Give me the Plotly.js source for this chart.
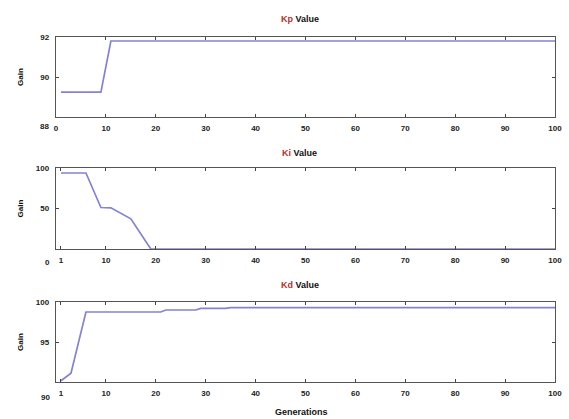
<!DOCTYPE html>
<html><head><meta charset="utf-8">
<script src="https://cdn.plot.ly/plotly-3.0.1.min.js"></script>
<style>html,body{margin:0;padding:0;background:#fff}#c{width:569px;height:419px}</style>
</head><body><div id="c"></div>
<script>
// Vertices of each curve (generation, gain)
const kpGen = [1, 9, 11, 100];
const kpGain = [89.24, 89.24, 91.8, 91.8];
const kiGen = [1, 6, 9, 11, 15, 19, 100];
const kiGain = [93.8, 93.8, 51.2, 50.8, 37.2, 0, 0];
const kdGen = [1, 3, 6, 21, 22, 28, 29, 34, 35, 100];
const kdGain = [90.15, 91.1, 98.75, 98.75, 99.0, 99.0, 99.2, 99.2, 99.3, 99.3];

// Tick values / labels
const xTicksTop = [0, 10, 20, 30, 40, 50, 60, 70, 80, 90, 100];
const xTicksLower = [1, 10, 20, 30, 40, 50, 60, 70, 80, 90, 100];
const kpYTicks = [88, 90, 92];
const kiYTicks = [0, 50, 100];
const kdYTicks = [90, 95, 100];
const titleKeys = ['Kp', 'Ki', 'Kd'];
const titleRest = ' Value';
const yTitle = 'Gain';
const xTitle = 'Generations';

const H = 419;
const frac = p => 1 - p / H;
const xDom = [56 / 569, 555 / 569];
const boxes = [[37, 117], [168, 249], [302, 382]];
const titleY = [19, 153, 285];
const bottomShift = [-10, -13, -15];
const lineColor = '#8383d3';
const tickFont = {family: 'Liberation Sans, Arial', size: 8, color: '#222', weight: 'bold'};

const traces = [
  {x: kpGen, y: kpGain, xaxis: 'x', yaxis: 'y'},
  {x: kiGen, y: kiGain, xaxis: 'x2', yaxis: 'y2'},
  {x: kdGen, y: kdGain, xaxis: 'x3', yaxis: 'y3'}
].map(t => Object.assign(t, {type: 'scatter', mode: 'lines', line: {color: lineColor, width: 1.7}, hoverinfo: 'skip', showlegend: false}));

function xa(anchor, ticks) {
  return {domain: xDom, anchor: anchor, range: [0, 100], tickvals: ticks, ticktext: ticks.map(String),
    ticks: 'inside', ticklen: 3, tickcolor: '#444', mirror: 'ticks', showline: true, linecolor: '#555', linewidth: 1.3,
    showgrid: false, zeroline: false, tickfont: tickFont, ticklabelstandoff: 3, fixedrange: true};
}
function ya(anchor, dom, ticks) {
  const shown = ticks.slice(1);
  return {domain: dom, anchor: anchor, range: [ticks[0], ticks[2]], tickvals: shown,
    ticktext: shown.map(String),
    ticks: 'inside', ticklen: 3, tickcolor: '#444', mirror: 'ticks', showline: true, linecolor: '#555', linewidth: 1.3,
    showgrid: false, zeroline: false, tickfont: tickFont, ticklabelstandoff: 4, fixedrange: true};
}

const yTickSets = [kpYTicks, kiYTicks, kdYTicks];
const yRefs = ['y', 'y2', 'y3'];
const annotations = [];
boxes.forEach((b, i) => {
  annotations.push({xref: 'paper', yref: 'paper', x: (56 + 555) / 2 / 569 - 0.01, y: frac(titleY[i]),
    text: '<span style="color:#b8302c">' + titleKeys[i] + '</span>' + titleRest,
    showarrow: false, xanchor: 'center', yanchor: 'middle', font: {family: 'Liberation Sans, Arial', size: 9, color: '#111', weight: 'bold'}});
  annotations.push({xref: 'paper', yref: 'paper', x: 20 / 569, y: frac((b[0] + b[1]) / 2), text: yTitle, textangle: -90,
    showarrow: false, xanchor: 'center', yanchor: 'middle', font: {family: 'Liberation Sans, Arial', size: 8, color: '#111', weight: 'bold'}});
  annotations.push({xref: 'paper', yref: yRefs[i], x: xDom[0], y: yTickSets[i][0], text: String(yTickSets[i][0]),
    showarrow: false, xanchor: 'right', yanchor: 'middle', xshift: i === 0 ? -5 : -4, yshift: bottomShift[i], font: tickFont});
});
annotations.push({xref: 'paper', yref: 'paper', x: 302 / 569, y: frac(412), text: xTitle, showarrow: false,
  xanchor: 'center', yanchor: 'middle', font: {family: 'Liberation Sans, Arial', size: 9, color: '#111', weight: 'bold'}});

const layout = {
  width: 569, height: 419, margin: {l: 0, r: 0, t: 0, b: 0},
  paper_bgcolor: '#fff', plot_bgcolor: '#fff',
  xaxis: xa('y', xTicksTop),
  yaxis: ya('x', [frac(boxes[0][1]), frac(boxes[0][0])], kpYTicks),
  xaxis2: xa('y2', xTicksLower),
  yaxis2: ya('x2', [frac(boxes[1][1]), frac(boxes[1][0])], kiYTicks),
  xaxis3: xa('y3', xTicksLower),
  yaxis3: ya('x3', [frac(boxes[2][1]), frac(boxes[2][0])], kdYTicks),
  annotations: annotations
};
Plotly.newPlot('c', traces, layout, {staticPlot: true, displayModeBar: false});
</script></body></html>
